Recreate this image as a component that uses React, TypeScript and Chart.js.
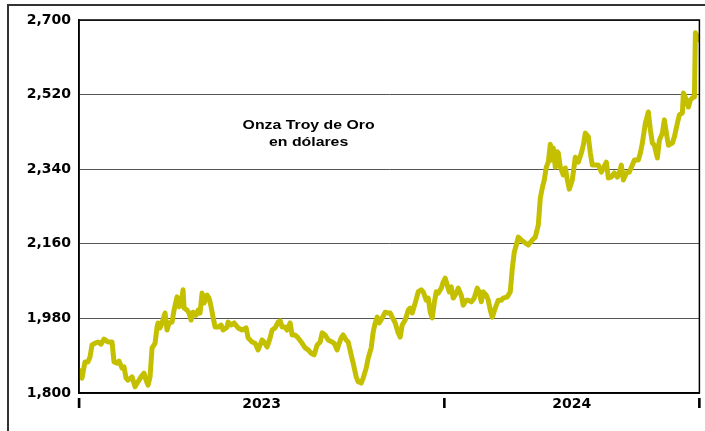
import { useEffect, useRef } from 'react';
import { Chart, registerables } from 'chart.js';

Chart.register(...registerables);

// Days since 2023-01-01
const days = [
  0, 3, 6, 9, 11, 13, 16, 19, 22, 25, 29, 33, 35, 38, 40, 43, 45, 47, 49, 53, 56, 59, 62, 65, 67, 69, 71, 73, 76,
  78, 79, 81, 83, 86, 88, 90, 93, 95, 98, 100, 102, 104, 105, 108, 110, 112, 114, 117, 119, 121, 123, 125, 128,
  130, 132, 134, 136, 139, 142, 144, 148, 149, 152, 155, 159, 163, 167, 169, 173, 176, 179, 183, 185, 188, 191,
  193, 196, 199, 201, 203, 206, 208, 211, 213, 216, 219, 223, 226, 229, 232, 235, 238, 241, 243, 246, 249, 253,
  255, 258, 260, 262, 264, 267, 269, 272, 274, 277, 279, 282, 284, 287, 289, 292, 294, 296, 298, 300, 303, 306,
  309, 311, 313, 316, 319, 321, 323, 326, 329, 331, 333, 336, 339, 342, 344, 347, 349, 351, 353, 355, 357, 359,
  362, 364, 366, 368, 370, 372, 374, 377, 379, 382, 384, 387, 389, 392, 395, 398, 400, 402, 404, 407, 409, 411,
  413, 416, 419, 422, 424, 428, 431, 433, 435, 437, 439, 442, 446, 449, 453, 456, 459, 461, 463, 465, 467, 469,
  471, 473, 474, 476, 478, 479, 481, 484, 486, 488, 490, 493, 496, 499, 502, 504, 506, 509, 511, 513, 515, 519,
  522, 527, 529, 532, 535, 538, 540, 542, 544, 547, 550, 553, 555, 559, 561, 563, 566, 569, 571, 573, 575, 578,
  580, 583, 585, 587, 589, 593, 595, 598, 600, 603, 604, 607, 609, 611, 614, 615, 616, 618, 620,
];

// Gold troy ounce price, US dollars
const prices = [
  1855, 1836, 1875, 1875, 1887, 1916, 1920, 1923, 1918, 1930, 1923, 1923, 1875, 1872, 1877, 1860, 1863, 1836, 1831,
  1839, 1815, 1827, 1839, 1848, 1831, 1819, 1839, 1909, 1920, 1959, 1969, 1957, 1969, 1993, 1952, 1969, 1971, 2000,
  2032, 2008, 2017, 2049, 2005, 2000, 1993, 1976, 1995, 1988, 2000, 1993, 2041, 2017, 2036, 2029, 2008, 1983, 1959,
  1959, 1964, 1952, 1959, 1971, 1964, 1969, 1957, 1952, 1957, 1933, 1923, 1920, 1904, 1928, 1923, 1911, 1933, 1952,
  1957, 1971, 1974, 1959, 1959, 1952, 1969, 1940, 1940, 1933, 1920, 1909, 1904, 1896, 1892, 1916, 1923, 1945, 1940,
  1928, 1923, 1920, 1904, 1920, 1933, 1940, 1928, 1923, 1892, 1872, 1839, 1827, 1824, 1836, 1860, 1884, 1909, 1947,
  1969, 1983, 1969, 1981, 1995, 1993, 1993, 1983, 1969, 1945, 1935, 1964, 1976, 2000, 2005, 1993, 2017, 2044, 2049,
  2044, 2024, 2029, 1995, 1981, 2017, 2044, 2041, 2053, 2068, 2077, 2060, 2044, 2056, 2029, 2041, 2053, 2036, 2012,
  2024, 2024, 2020, 2029, 2053, 2044, 2020, 2044, 2036, 2024, 2000, 1983, 2005, 2024, 2024, 2029, 2032, 2044, 2100,
  2140, 2157, 2176, 2169, 2162, 2157, 2169, 2176, 2205, 2270, 2295, 2314, 2345, 2357, 2400, 2362, 2391, 2345, 2382,
  2379, 2345, 2326, 2343, 2314, 2292, 2314, 2369, 2357, 2379, 2398, 2427, 2418, 2379, 2350, 2350, 2350, 2333, 2357,
  2319, 2321, 2331, 2321, 2331, 2350, 2314, 2331, 2333, 2350, 2362, 2362, 2379, 2403, 2451, 2478, 2435, 2403, 2398,
  2367, 2410, 2427, 2459, 2427, 2398, 2403, 2418, 2451, 2471, 2476, 2524, 2507, 2490, 2507, 2514, 2514, 2669, 2660,
  2652,
];

const yTicks = [1800, 1980, 2160, 2340, 2520, 2700];
const xTickDays = [0, 182.5, 365, 492.5, 620];
const xTickLabels = ['I', '2023', 'I', '2024', 'I'];
const noteLines = ['Onza Troy de Oro', 'en dólares'];

export default function App() {
  const ref = useRef<HTMLCanvasElement>(null);

  useEffect(() => {
    if (!ref.current) return;
    const decor = {
      id: 'decor',
      beforeDraw(chart: any) {
        const ctx = chart.ctx;
        ctx.save();
        ctx.fillStyle = '#fff';
        ctx.fillRect(0, 0, chart.width, chart.height);
        ctx.strokeStyle = '#333';
        ctx.lineWidth = 2;
        ctx.beginPath();
        ctx.moveTo(8, chart.height);
        ctx.lineTo(8, 5);
        ctx.lineTo(chart.width, 5);
        ctx.stroke();
        ctx.restore();
      },
      afterDraw(chart: any) {
        const ctx = chart.ctx;
        const a = chart.chartArea;
        ctx.save();
        ctx.strokeStyle = '#000';
        ctx.lineWidth = 1.5;
        ctx.strokeRect(a.left, a.top, a.right - a.left, a.bottom - a.top);
        const xs = chart.scales.x;
        const ys = chart.scales.y;
        const cx = xs.getPixelForValue(xTickDays[1]) + 47;
        const cy = ys.getPixelForValue(2444);
        ctx.fillStyle = '#000';
        ctx.font = 'bold 12px "Liberation Sans", Arial, sans-serif';
        ctx.textAlign = 'center';
        ctx.textBaseline = 'middle';
        noteLines.forEach((t, i) => {
          ctx.save();
          ctx.translate(cx, cy + i * 17);
          ctx.scale(1.32, 1);
          ctx.fillText(t, 0, 0);
          ctx.restore();
        });
        ctx.restore();
      },
    };

    const tickFont = { family: '"DejaVu Sans", sans-serif', size: 14, weight: 'bold' as const };

    const chart = new Chart(ref.current, {
      type: 'line',
      data: {
        datasets: [
          {
            data: days.map((d, i) => ({ x: d, y: prices[i] })),
            borderColor: '#c4c000',
            borderWidth: 5,
            pointRadius: 0,
            tension: 0,
            borderJoinStyle: 'round',
            borderCapStyle: 'round',
          },
        ],
      },
      options: {
        responsive: false,
        animation: false,
        devicePixelRatio: 1,
        layout: { padding: { left: 0, top: 20, right: 5, bottom: 0 } },
        plugins: { legend: { display: false }, tooltip: { enabled: false } },
        scales: {
          x: {
            type: 'linear',
            min: 0,
            max: 620,
            afterBuildTicks: (axis: any) => {
              axis.ticks = xTickDays.map((v) => ({ value: v }));
            },
            afterFit: (s: any) => {
              s.height = 38;
            },
            ticks: {
              callback: (_v: any, i: number) => xTickLabels[i],
              autoSkip: false,
              maxRotation: 0,
              minRotation: 0,
              padding: 3,
              color: '#000',
              font: tickFont,
            },
            grid: { display: false, drawTicks: false },
            border: { display: true, color: '#000', width: 1.5 },
          },
          y: {
            min: 1800,
            max: 2700,
            afterBuildTicks: (axis: any) => {
              axis.ticks = yTicks.map((v) => ({ value: v }));
            },
            afterFit: (s: any) => {
              s.width = 79;
            },
            ticks: {
              callback: (v: any) => Number(v).toLocaleString('en-US'),
              padding: 8,
              color: '#000',
              font: tickFont,
            },
            grid: { color: '#555', lineWidth: 1, drawTicks: false },
            border: { display: true, color: '#000', width: 1.5 },
          },
        },
      },
      plugins: [decor],
    });
    return () => chart.destroy();
  }, []);

  return (
    <div style={{ position: 'fixed', left: 0, top: 0, width: 705, height: 431, background: '#fff' }}>
      <canvas ref={ref} width={705} height={431} />
    </div>
  );
}
